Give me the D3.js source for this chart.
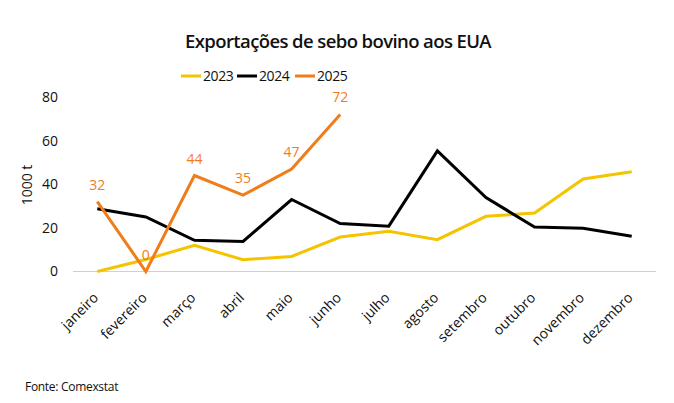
<!DOCTYPE html>
<html><head><meta charset="utf-8">
<script src="https://cdn.jsdelivr.net/npm/d3@7"></script>
<style>body{margin:0;background:#fff;} svg{display:block;} text{font-family:"Open Sans",sans-serif;}</style>
</head><body>
<svg id="c" width="674" height="403"></svg>
<script>
const months = ["janeiro","fevereiro","março","abril","maio","junho","julho","agosto","setembro","outubro","novembro","dezembro"];
const seriesNames = ["2023","2024","2025"];
const values2023 = [0, 5.5, 12, 5.4, 6.9, 15.8, 18.4, 14.6, 25.3, 26.8, 42.4, 45.7];
const values2024 = [28.8, 25, 14.3, 13.8, 33, 22, 20.8, 55.3, 33.9, 20.4, 19.8, 16.2];
const values2025 = [32, 0, 44, 35, 47, 72];
const yTicks = [0, 20, 40, 60, 80];
const colors = ["#F5C400", "#000000", "#F07D1A"];
const title = "Exportações de sebo bovino aos EUA";
const yLabel = "1000 t";
const source = "Fonte: Comexstat";

const svg = d3.select("#c");
const x = d3.scaleBand().domain(months).range([73, 656]);
const y = d3.scaleLinear().domain([0, 80]).range([271.5, 97]);
const cx = m => x(m) + x.bandwidth() / 2;

svg.append("text").attr("x", 338).attr("y", 48).attr("text-anchor", "middle")
  .attr("font-size", 18.5).attr("font-weight", 600).attr("fill", "#111").attr("letter-spacing", -0.6).text(title);

// legend
const legendX = [181, 237, 295];
seriesNames.forEach((s, i) => {
  const g = svg.append("g").attr("transform", `translate(${legendX[i]},76)`);
  g.append("line").attr("x1", 0).attr("x2", 20).attr("y1", 0).attr("y2", 0).attr("stroke", colors[i]).attr("stroke-width", 3);
  g.append("text").attr("x", 22).attr("y", 5).attr("font-size", 14).attr("fill", "#111").attr("letter-spacing", -0.4).text(s);
});

// baseline
svg.append("line").attr("x1", 73).attr("x2", 656).attr("y1", y(0)).attr("y2", y(0)).attr("stroke", "#d0d0d0").attr("stroke-width", 1);

// y axis
const yAxis = d3.axisLeft(y).tickValues(yTicks).tickSize(0).tickPadding(0);
const ya = svg.append("g").attr("transform", "translate(58,0)").call(yAxis);
ya.select(".domain").remove();
ya.selectAll("text").attr("font-size", 14).attr("fill", "#111").attr("font-family", "Open Sans, sans-serif");

svg.append("text").attr("transform", "translate(32,185) rotate(-90)").attr("text-anchor", "middle")
  .attr("font-size", 14).attr("fill", "#111").text(yLabel);

// x axis
const xAxis = d3.axisBottom(x).tickSize(0).tickPadding(0);
const xa = svg.append("g").attr("transform", `translate(0,${y(0)})`).call(xAxis);
xa.select(".domain").remove();
xa.selectAll("text").attr("font-size", 14).attr("fill", "#111").attr("font-family", "Open Sans, sans-serif")
  .attr("text-anchor", "end").attr("dy", 0).attr("y", 0)
  .attr("transform", "translate(2,27) rotate(-45)");

// lines
const line = d3.line().x((d, i) => cx(months[i])).y(d => y(d));
[values2023, values2024, values2025].forEach((vals, i) => {
  svg.append("path").datum(vals).attr("d", line).attr("fill", "none")
    .attr("stroke", colors[i]).attr("stroke-width", 3).attr("stroke-linejoin", "miter");
});

// data labels 2025
svg.selectAll(".lbl").data(values2025).enter().append("text")
  .attr("x", (d, i) => cx(months[i])).attr("y", d => y(d) - 12)
  .attr("text-anchor", "middle").attr("font-size", 14).attr("fill", colors[2]).text(d => d);

svg.append("text").attr("x", 25).attr("y", 391).attr("font-size", 12).attr("fill", "#111").attr("letter-spacing", -0.3).text(source);
</script>
</body></html>
